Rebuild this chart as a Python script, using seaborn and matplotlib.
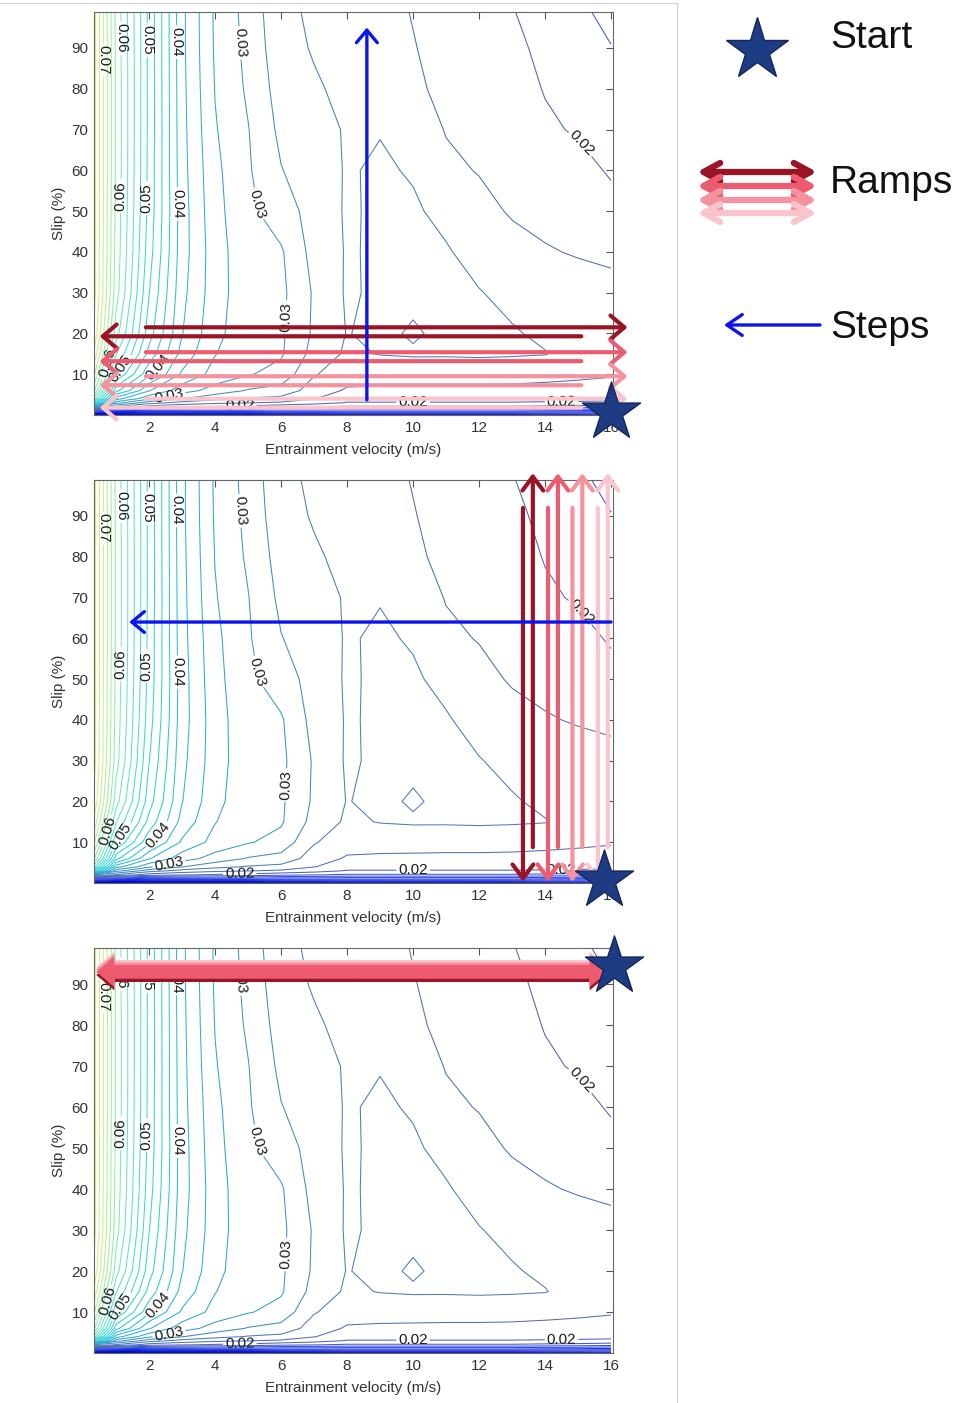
import numpy as np
import pandas as pd
import matplotlib
matplotlib.use("Agg")
import matplotlib.pyplot as plt
import seaborn as sns
from matplotlib.colors import LinearSegmentedColormap, Normalize
from matplotlib.patches import FancyArrowPatch

# traction map grid: entrainment velocity (m/s) and slip (%)
velocity = [0.33, 1, 2, 3, 4, 5, 6, 7, 8, 9, 10, 11, 12, 13, 14, 15, 16]
slip = [0, 1, 2, 3, 4, 6, 10, 15, 20, 30, 40, 50, 60, 70, 80, 90, 99]

# traction coefficient x 1000, one row per slip value
mu_rows = [
    [1.0, 1.0, 1.0, 1.0, 1.0, 1.0, 1.0, 1.0, 1.0, 1.0, 1.0, 1.0, 1.0, 1.0, 1.0, 1.0, 1.0],
    [12.1, 11.6, 11.1, 11.1, 11.1, 11.1, 10.6, 10.6, 10.3, 10.3, 10.3, 10.3, 10.3, 10.3, 9.8, 9.6, 9.1],
    [27.1, 24.6, 21.1, 20.2, 19.6, 19.1, 18.1, 17.6, 17.1, 17.1, 17.1, 17.1, 17.1, 17.1, 16.8, 16.6, 16.1],
    [46.0, 31.0, 26.1, 24.1, 23.1, 22.6, 22.1, 21.1, 19.8, 19.8, 19.8, 19.8, 19.8, 19.8, 19.7, 19.6, 19.4],
    [56.0, 36.1, 30.6, 27.6, 25.8, 24.8, 24.3, 22.6, 21.1, 21.1, 21.1, 21.1, 21.1, 21.1, 20.9, 20.8, 20.7],
    [63.0, 43.3, 35.2, 31.1, 29.0, 27.3, 26.6, 23.8, 22.2, 22.1, 22.1, 22.1, 22.1, 22.1, 21.9, 21.8, 21.6],
    [68.0, 50.1, 40.6, 34.6, 31.6, 30.2, 29.1, 25.2, 23.6, 23.4, 23.3, 23.2, 23.2, 23.1, 23.1, 22.9, 22.7],
    [72.0, 55.2, 44.1, 36.6, 32.6, 30.8, 30.3, 26.6, 24.6, 25.1, 25.3, 25.3, 25.4, 25.3, 25.1, 24.1, 23.3],
    [74.6, 58.6, 46.1, 37.6, 33.2, 30.9, 30.4, 27.1, 24.9, 25.6, 24.7, 25.6, 25.6, 25.2, 24.6, 24.2, 23.6],
    [76.0, 61.1, 47.6, 38.2, 33.6, 30.9, 30.6, 27.2, 24.7, 25.4, 25.6, 25.6, 25.1, 24.4, 23.8, 23.6, 23.1],
    [76.0, 61.6, 48.6, 38.6, 33.6, 30.8, 30.3, 26.6, 24.8, 25.3, 25.6, 25.2, 24.2, 23.2, 22.7, 22.3, 22.1],
    [76.0, 61.8, 49.1, 38.6, 33.3, 30.6, 28.6, 26.6, 24.7, 25.4, 25.3, 24.4, 23.1, 22.3, 21.8, 21.3, 20.6],
    [76.0, 62.0, 49.2, 38.4, 33.1, 30.3, 27.6, 26.2, 24.8, 25.3, 24.8, 22.9, 22.4, 21.9, 21.1, 20.6, 19.8],
    [76.0, 62.0, 49.3, 38.3, 32.7, 30.1, 26.9, 25.8, 24.8, 24.9, 23.6, 22.4, 22.1, 21.3, 20.3, 19.8, 19.1],
    [76.0, 62.0, 49.3, 38.2, 32.4, 29.6, 26.4, 25.3, 24.4, 24.1, 22.8, 22.1, 21.6, 20.8, 19.9, 19.2, 18.4],
    [76.0, 61.9, 49.3, 38.1, 32.2, 29.3, 25.9, 24.8, 24.1, 23.6, 22.6, 21.8, 21.2, 20.4, 19.6, 18.6, 17.6],
    [76.0, 61.8, 49.3, 38.1, 32.1, 29.1, 25.6, 24.6, 23.8, 23.2, 22.4, 21.6, 20.8, 20.1, 19.1, 18.1, 16.6],
]

# where the contour values are written on the map (velocity, slip)
label_spots = [(0.51, 87), (1.18, 92.4), (1.91, 91.9), (2.78, 91.4), (4.63, 91.2),
               (1.06, 53.7), (1.78, 53.2), (2.81, 51.7), (5.3, 51.7), (6.27, 24),
               (0.63, 13), (1.12, 11.5), (2.18, 12.3), (2.63, 3.7), (4.75, 1.6),
               (10.0, 2.8), (14.5, 3.9), (14.85, 65)]

# test sequences drawn over the maps
ramp_colors = ["#9b1426", "#ec5b6f", "#f4929d", "#f9c4cb"]
start_vel = [16.0, 15.8, 16.1]
start_slip = [0.8, 0.8, 94.4]
# panel 1: velocity ramps at fixed slip, slip step at fixed velocity
vel_ramp_slips = [20.4, 14.3, 8.4, 2.9]
vel_ramp_up = (1.9, 16.5)
vel_ramp_down = (15.1, 0.5)
step1_vel = 8.6
step1_slips = (3.7, 95.0)
# panel 2: slip ramps at fixed velocity, velocity step at fixed slip
slip_ramp_vels = [13.48, 14.24, 14.98, 15.75]
slip_ramp_up = (8.8, 100.5)
slip_ramp_down = (92.0, 0.3)
step2_slip = 64.0
step2_vels = (16.0, 1.4)
# panel 3: fast velocity ramps at high slip
fast_ramp_slip = 93.2
fast_ramp_vels = (0.4, 15.9)

mu = pd.DataFrame(mu_rows, index=slip, columns=velocity) / 1000.0
V, S = np.meshgrid(mu.columns.values, mu.index.values)
Z = mu.values

levels = np.round(np.arange(1, 31) * 0.0025, 4)
label_levels = [0.02, 0.03, 0.04, 0.05, 0.06, 0.07]
plain_levels = [l for l in levels if not np.isclose(l, label_levels).any()]

cmap = LinearSegmentedColormap.from_list("mapcols", [
    (0.0, "#000090"), (0.0625, "#0010d8"), (0.125, "#1a30e8"), (0.1875, "#3550d8"),
    (0.25, "#5264b0"), (0.3125, "#4a7cb4"), (0.375, "#3898c4"), (0.5, "#22c4dc"),
    (0.625, "#38dcd4"), (0.75, "#78ecb4"), (0.875, "#c8f08c"), (1.0, "#f0f070")])
norm = Normalize(0, 0.08)

sns.set_theme(style="white")
plt.rcParams["font.family"] = ["Liberation Sans", "DejaVu Sans"]

fig = plt.figure(figsize=(9.61, 14.03), dpi=100)
boxes = [[0.0978, 0.7042, 0.5401, 0.2872],
         [0.0978, 0.3706, 0.5401, 0.2872],
         [0.0978, 0.0356, 0.5401, 0.2887]]
axes = [fig.add_axes(b) for b in boxes]


def line_arrow(ax, start, end, color, lw, hl, hw, z=5):
    ax.annotate("", xy=end, xytext=start, annotation_clip=False, zorder=z,
                arrowprops=dict(arrowstyle=f"->,head_length={hl},head_width={hw}",
                                color=color, lw=lw, shrinkA=0, shrinkB=0,
                                mutation_scale=10, clip_on=False))


for i, ax in enumerate(axes):
    ax.contour(V, S, Z, levels=plain_levels, cmap=cmap, norm=norm, linewidths=0.75)
    cs = ax.contour(V, S, Z, levels=label_levels, cmap=cmap, norm=norm, linewidths=0.75)
    ax.set_xlim(0.33, 16.06)
    ax.set_ylim(0, 98.8)
    ax.clabel(cs, fmt="%.2f", fontsize=11, colors="k", inline=True,
              inline_spacing=2, manual=label_spots)
    ax.set_xticks(range(2, 17, 2))
    ax.set_yticks(range(10, 91, 10))
    ax.tick_params(direction="in", top=True, right=True, length=5, width=0.8,
                   color="#555555", labelcolor="#333333", labelsize=11, pad=4)
    for sp in ax.spines.values():
        sp.set_color("#666666")
        sp.set_linewidth(0.8)
    ax.set_xlabel("Entrainment velocity (m/s)", fontsize=11, color="#333333", labelpad=6)
    ax.set_ylabel("Slip (%)", fontsize=11, color="#333333", labelpad=4)

# panel 1
ax = axes[0]
for s, c in zip(vel_ramp_slips, ramp_colors):
    line_arrow(ax, (vel_ramp_up[0], s + 1.1), (vel_ramp_up[1], s + 1.1), c, 3.0, 1.0, 0.85)
    line_arrow(ax, (vel_ramp_down[0], s - 1.1), (vel_ramp_down[1], s - 1.1), c, 3.0, 1.0, 0.85)
line_arrow(ax, (step1_vel, step1_slips[0]), (step1_vel, step1_slips[1]), "#0a14f0", 2.4, 0.9, 0.75, z=6)

# panel 2
ax = axes[1]
for v, c in zip(slip_ramp_vels, ramp_colors):
    line_arrow(ax, (v - 0.15, slip_ramp_down[0]), (v - 0.15, slip_ramp_down[1]), c, 3.0, 1.0, 0.75)
    line_arrow(ax, (v + 0.15, slip_ramp_up[0]), (v + 0.15, slip_ramp_up[1]), c, 3.0, 1.0, 0.75)
line_arrow(ax, (step2_vels[0], step2_slip), (step2_vels[1], step2_slip), "#0a14f0", 2.4, 0.9, 0.75, z=6)

# panel 3: stacked fat double arrow
ax = axes[2]
mid = sum(fast_ramp_vels) / 2
for off, c in zip([-1.0, 1.0, 0.4, -0.2], [ramp_colors[0], ramp_colors[3], ramp_colors[2], ramp_colors[1]]):
    for end in fast_ramp_vels:
        ax.add_patch(FancyArrowPatch((mid, fast_ramp_slip + off), (end, fast_ramp_slip + off),
                                     arrowstyle="simple,head_length=13,head_width=22,tail_width=10",
                                     mutation_scale=1, color=c, lw=0, shrinkA=0, shrinkB=0,
                                     clip_on=False, zorder=6))

for ax, v, s in zip(axes, start_vel, start_slip):
    sns.scatterplot(x=[v], y=[s], marker="*", s=44 ** 2, color="#1e3c84",
                    edgecolor="#12275a", linewidth=1, zorder=10, clip_on=False,
                    legend=False, ax=ax)

# overlay in pixel units for the key and the frame
ov = fig.add_axes([0, 0, 1, 1])
ov.set_xlim(0, 961)
ov.set_ylim(1403, 0)
ov.axis("off")
ov.patch.set_alpha(0)
ov.plot([0, 677, 677], [3, 3, 1403], color="#d4d4d4", lw=0.8)
ov.plot([757], [50], marker="*", markersize=47, color="#1e3c84", markeredgecolor="#12275a")
ov.text(830, 38, "Start", fontsize=28, va="center", ha="left", color="#111111")
for y, c in zip([172, 186, 200, 213], ramp_colors):
    ov.annotate("", xy=(817, y), xytext=(697, y),
                arrowprops=dict(arrowstyle="<->,head_length=1.2,head_width=0.65",
                                color=c, lw=4.5, shrinkA=0, shrinkB=0, mutation_scale=10))
ov.text(830, 183, "Ramps", fontsize=28, va="center", ha="left", color="#111111")
ov.annotate("", xy=(724, 325), xytext=(820, 325),
            arrowprops=dict(arrowstyle="->,head_length=1.1,head_width=0.75",
                            color="#0a14f0", lw=2.4, shrinkA=0, shrinkB=0, mutation_scale=10))
ov.text(830, 328, "Steps", fontsize=28, va="center", ha="left", color="#111111")

fig.savefig("out.png", dpi=100)
